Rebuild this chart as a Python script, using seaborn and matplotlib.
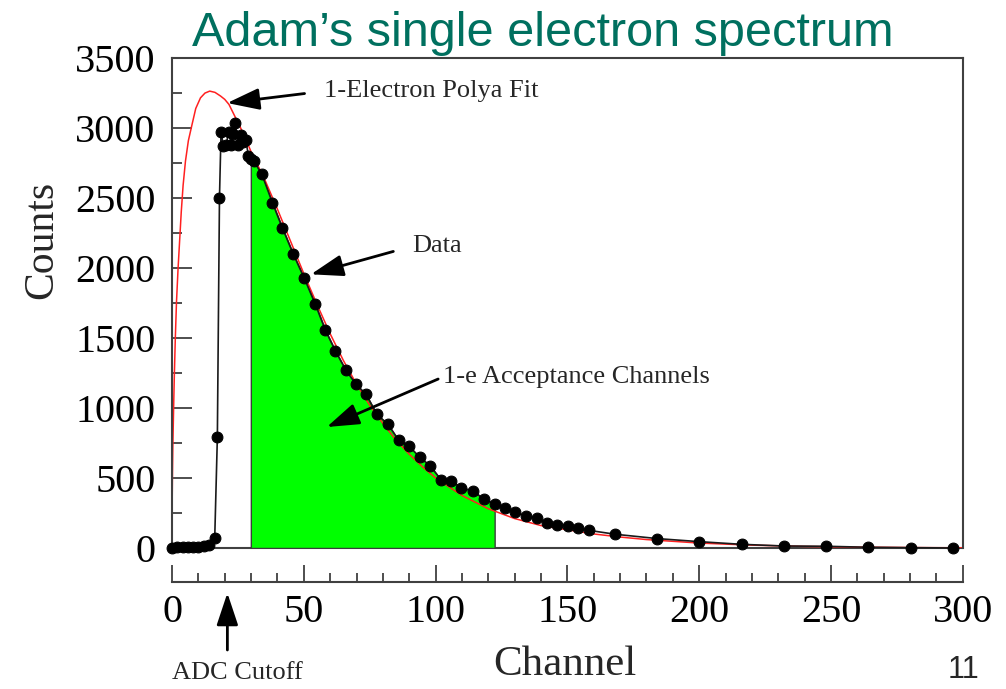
import matplotlib
matplotlib.use("Agg")
import matplotlib.pyplot as plt
from matplotlib.ticker import MultipleLocator
import pandas as pd
import seaborn as sns

# Measured single-electron spectrum (channel, counts)
channel = [0, 2, 4, 6, 8, 10, 12, 14, 16.2, 17.2, 18.0, 18.6, 19.5, 20.5, 21.5,
           22.5, 23.3, 24.0, 25.0, 26.0, 27.0, 28.0, 29.0, 29.9, 31.0, 34.1,
           38.1, 41.9, 46.0, 50.2, 54.4, 58.2, 62.0, 66.0, 69.8, 73.6, 77.7,
           81.9, 86.0, 89.8, 93.9, 98.0, 102.2, 106.0, 109.7, 114.2, 118.3,
           122.4, 126.2, 130.0, 134.2, 138.3, 142.1, 146.1, 150.2, 154.1,
           158.1, 168.1, 184.1, 200.1, 216.1, 232.1, 248.3, 264.0, 280.2, 296.2]
counts = [3, 4, 5, 6, 8, 10, 14, 18, 70, 790, 2500, 2975, 2870, 2880, 2970,
          2880, 2960, 3035, 2880, 2950, 2900, 2915, 2800, 2776, 2765, 2669,
          2466, 2285, 2100, 1926, 1740, 1555, 1407, 1269, 1169, 1098, 955,
          884, 769, 729, 650, 586, 483, 479, 431, 407, 350,
          315, 285, 258, 229, 211, 181, 164, 157, 141,
          126, 98, 67, 45, 26, 14, 12, 5, 2, 0]

# Polya fit to the single-electron response
fit_channel = [0, 0.01, 0.03, 0.07, 0.15, 0.3, 0.6, 0.9, 1.25, 1.7, 2.3, 2.9,
               3.5, 4.2, 5.1, 6.2, 7.6, 9.0, 10.8, 12.5, 14.3, 16.3, 18.4,
               20.0, 21.6, 24.1, 26.0, 28.0, 30.0, 35, 40, 45, 50, 55, 60, 65,
               70, 75, 80, 85, 90, 95, 100, 110, 120, 130, 140, 150, 160, 170,
               180, 200, 220, 240, 260, 280, 300]
fit_counts = [0, 130, 220, 350, 500, 720, 1000, 1250, 1500, 1760, 2000, 2200,
              2400, 2590, 2764, 2910, 3026, 3140, 3216, 3250, 3264, 3255, 3229,
              3205, 3169, 3074, 3002, 2920, 2830, 2640, 2420, 2190, 1960, 1740,
              1530, 1340, 1170, 1020, 890, 770, 670, 580, 500, 375, 280, 210,
              160, 130, 100, 78, 60, 35, 20, 11, 6, 3, 1]

# Channel window accepted as single-electron signal
accept_lo, accept_hi = 29.9, 122.4

x_ticks = [0, 50, 100, 150, 200, 250, 300]
y_ticks = [0, 500, 1000, 1500, 2000, 2500, 3000, 3500]

sns.set_style("ticks")
plt.rcParams["font.family"] = ["Liberation Serif", "DejaVu Serif"]

fig = plt.figure(figsize=(10.06, 6.89), dpi=100)
ax = fig.add_axes([0.171, 0.2047, 0.786, 0.711])

spec = pd.DataFrame({"Channel": channel, "Counts": counts})
fit = pd.DataFrame({"Channel": fit_channel, "Counts": fit_counts})

window = spec[(spec["Channel"] >= accept_lo) & (spec["Channel"] <= accept_hi)]
ax.fill_between(window["Channel"], 0, window["Counts"], facecolor="#00ff00",
                edgecolor="#3c3c3c", linewidth=1.0, zorder=1)

sns.lineplot(data=fit, x="Channel", y="Counts", color="#ff2020", linewidth=1.1,
             estimator=None, sort=False, ax=ax, zorder=2)
sns.lineplot(data=spec, x="Channel", y="Counts", color="#1a1a1a", linewidth=1.2,
             marker="o", markersize=7.8, markerfacecolor="black",
             markeredgecolor="black", estimator=None, sort=False, ax=ax,
             zorder=3, clip_on=False)

ax.set_xlim(0, 300)
ax.set_ylim(0, 3500)
ax.set_xticks(x_ticks)
ax.set_yticks(y_ticks)
ax.xaxis.set_minor_locator(MultipleLocator(10))
ax.yaxis.set_minor_locator(MultipleLocator(250))

frame_col = "#404040"
for side in ["top", "left", "right", "bottom"]:
    ax.spines[side].set_color(frame_col)
    ax.spines[side].set_linewidth(1.5)
# The channel scale sits detached below the plot frame
ax.spines["bottom"].set_position(("outward", 24.5))
ax.axhline(0, color=frame_col, linewidth=1.5, clip_on=False, zorder=0.5)

ax.tick_params(axis="both", which="both", direction="in", colors=frame_col,
               labelcolor="black", labelsize=29, width=1.3)
ax.tick_params(axis="y", which="major", length=14.4, pad=12)
ax.tick_params(axis="y", which="minor", length=7.2)
ax.tick_params(axis="x", which="major", length=12, pad=9)
ax.tick_params(axis="x", which="minor", length=6.5)

ax.set_xlabel("Channel", fontsize=31)
ax.set_ylabel("Counts", fontsize=30)
ax.xaxis.label.set_va("center")
ax.yaxis.label.set_va("center")
ax.xaxis.set_label_coords(0.497, -0.239)
ax.yaxis.set_label_coords(-0.165, 0.629)


def arrow(shrink):
    return dict(arrowstyle="-|>,head_length=0.9,head_width=0.3", color="black",
                lw=2.0, mutation_scale=22, shrinkA=shrink, shrinkB=0,
                relpos=(0, 0.5))


note_size = 19
ax.annotate("1-Electron Polya Fit", xy=(20.9, 3179), xytext=(57.8, 3264),
            ha="left", va="center", fontsize=note_size, arrowprops=arrow(12))
ax.annotate("Data", xy=(52.7, 1955), xytext=(91.3, 2157),
            ha="left", va="center", fontsize=note_size, arrowprops=arrow(12))
ax.annotate("1-e Acceptance Channels", xy=(58.7, 864), xytext=(102.7, 1221),
            ha="left", va="center", fontsize=note_size, arrowprops=arrow(1))
# ADC cutoff marker below the channel scale (figure pixels counted from bottom)
ax.annotate("", xy=(21.0, 689 - 593), xycoords=("data", "figure pixels"),
            xytext=(21.0, 689 - 650), textcoords=("data", "figure pixels"),
            arrowprops=dict(arrowstyle="-|>,head_length=0.9,head_width=0.3",
                            color="black", lw=2.0, mutation_scale=22,
                            shrinkA=0, shrinkB=0))
fig.text(172 / 1006, 1 - 673 / 689, "ADC Cutoff", ha="left", va="center",
         fontsize=note_size)

fig.text(543 / 1006, 1 - 33 / 689, "Adam\u2019s single electron spectrum",
         ha="center", va="center", fontsize=35, color="#00705f",
         family=["Liberation Sans", "DejaVu Sans"])
fig.text(963 / 1006, 1 - 670 / 689, "11", ha="center", va="center",
         fontsize=22, family=["Liberation Sans", "DejaVu Sans"])

fig.savefig("out.png", dpi=100)
